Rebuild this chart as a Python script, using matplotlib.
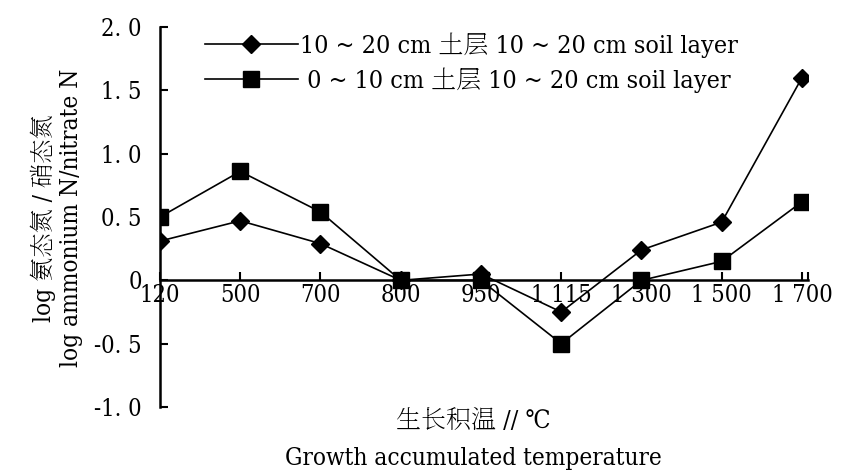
import matplotlib
matplotlib.use("Agg")
import matplotlib.pyplot as plt
import numpy as np

categories = ["120", "500", "700", "800", "950", "1 115", "1 300", "1 500", "1 700"]
layer_10_20 = [0.31, 0.47, 0.29, 0.0, 0.05, -0.25, 0.24, 0.46, 1.60]
layer_0_10 = [0.50, 0.86, 0.54, 0.0, 0.0, -0.50, 0.0, 0.15, 0.62]
yticks = [-1.0, -0.5, 0, 0.5, 1.0, 1.5, 2.0]
ytick_labels = ["-1. 0", "-0. 5", "0", "0. 5", "1. 0", "1. 5", "2. 0"]
label_a = "10 ~ 20 cm 土层 10 ~ 20 cm soil layer"
label_b = " 0 ~ 10 cm 土层 10 ~ 20 cm soil layer"

fam = ["DejaVu Serif", "Noto Serif SC", "DejaVu Sans"]
plt.rcParams["font.family"] = fam
plt.rcParams["font.stretch"] = "condensed"

fig = plt.figure(figsize=(8.59, 4.73), dpi=100)
ax = fig.add_axes([160/859, (473-407)/473, (808-160)/859, (407-27)/473])

for s in ["top", "right"]:
    ax.spines[s].set_visible(False)
ax.spines["bottom"].set_position(("data", 0))
ax.spines["left"].set_linewidth(1.8)
ax.spines["bottom"].set_linewidth(1.8)

x = np.arange(len(categories))
ax.plot(x, layer_10_20, color="black", lw=1.2, marker="D", ms=9.5, label=label_a)
ax.plot(x, layer_0_10, color="black", lw=1.2, marker="s", ms=11.5, label=label_b)

xmax = 8.075
ax.set_xlim(0, xmax)
ax.set_ylim(-1.0, 2.0)
ax.set_yticks(yticks)
ax.set_yticklabels(ytick_labels)
ax.set_xticks(list(x) + [xmax])
ax.set_xticklabels(categories + [""])

ax.tick_params(axis="y", direction="in", length=6, width=1.5, pad=13, labelsize=17)
ax.tick_params(axis="x", direction="in", length=6, width=1.5, pad=3, labelsize=17)

ax.legend(loc="upper left", bbox_to_anchor=(205/859, 1 - 32/473), bbox_transform=fig.transFigure,
          frameon=False, fontsize=18, handlelength=3.7, handletextpad=0.1,
          labelspacing=0.4, borderpad=0, borderaxespad=0)

fig.text(43/859, 1 - 218/473, "log 氨态氮 / 硝态氮", rotation=90, ha="center", va="center", fontsize=17.5)
fig.text(72/859, 1 - 218/473, "log ammonium N/nitrate N", rotation=90, ha="center", va="center", fontsize=17.5)
fig.text(473/859, 1 - 421/473, "生长积温 // ℃", ha="center", va="center", fontsize=18)
fig.text(473/859, 1 - 458/473, "Growth accumulated temperature", ha="center", va="center", fontsize=17.5)

fig.savefig("out.png", dpi=100)
